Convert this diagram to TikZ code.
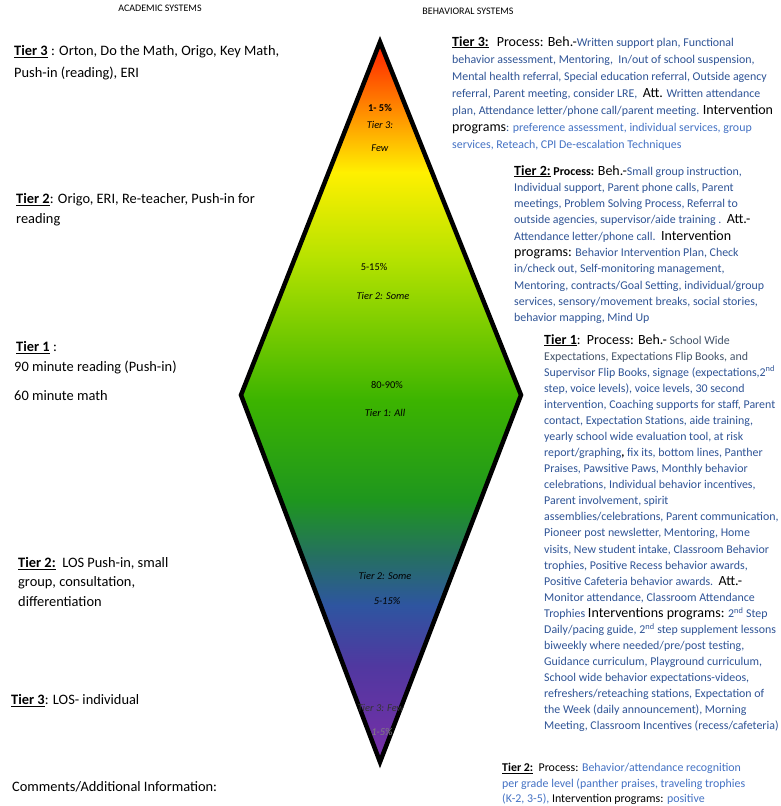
\documentclass[tikz,border=0pt]{standalone}
\usepackage{fontspec}
\setmainfont{Carlito}
\definecolor{bdark}{HTML}{2F5496}
\definecolor{blight}{HTML}{4472C4}
\definecolor{bgray}{HTML}{44546A}
\definecolor{c1}{HTML}{FF1A00}
\definecolor{c2}{HTML}{FF7A00}
\definecolor{c3}{HTML}{FFF000}
\definecolor{c4}{HTML}{B4E200}
\definecolor{c5}{HTML}{3CB400}
\definecolor{c6}{HTML}{1E961E}
\definecolor{c7}{HTML}{257060}
\definecolor{c8}{HTML}{2E55A0}
\definecolor{c9}{HTML}{5038A0}
\definecolor{c10}{HTML}{7A2EA8}
\tikzset{
  lefttext/.style={anchor=north west, inner sep=0, align=left, font=\fontsize{14.4}{22}\selectfont},
  righttext/.style={anchor=north west, inner sep=0, align=left, font=\fontsize{11.9}{16.2}\selectfont, text=bdark},
  lbl/.style={font=\fontsize{10.4}{12}\selectfont, inner sep=0},
  hdr/.style={font=\fontsize{10}{12}\selectfont, inner sep=0},
}
\newcommand{\bigtxt}[1]{{\fontsize{14}{16}\selectfont\color{black}#1}}
\newcommand{\tierhead}[1]{{\fontsize{14}{16}\selectfont\color{black}\textbf{\underline{#1}}}}
\begin{document}
\begin{tikzpicture}[x=1pt,y=-1pt]
\useasboundingbox (0,0) rectangle (780,806);
\fill[white] (0,0) rectangle (780,806);

% diamond
\coordinate (dt) at (380,42);
\coordinate (dl) at (241,395);
\coordinate (dr) at (521,395);
\coordinate (db) at (380,762);
\begin{scope}
\clip (dt) -- (dr) -- (db) -- (dl) -- cycle;
\fill[top color=c1, bottom color=c2] (230,40) rectangle (530,100.5);
\fill[top color=c2, bottom color=c3] (230,100) rectangle (530,172.5);
\fill[top color=c3, bottom color=c4] (230,172) rectangle (530,260.5);
\fill[top color=c4, bottom color=c5] (230,260) rectangle (530,400.5);
\fill[top color=c5, bottom color=c6] (230,400) rectangle (530,500.5);
\fill[top color=c6, bottom color=c7] (230,500) rectangle (530,555.5);
\fill[top color=c7, bottom color=c8] (230,555) rectangle (530,605.5);
\fill[top color=c8, bottom color=c9] (230,605) rectangle (530,665.5);
\fill[top color=c9, bottom color=c10] (230,665) rectangle (530,765);
\end{scope}
\draw[line width=4.5pt, line join=miter] (dt) -- (dr) -- (db) -- (dl) -- cycle;

% diamond labels
\node[lbl] (p1) at (380,108) {\textbf{1- 5\%}};
\node[lbl] (p2) at (380,125) {\textit{Tier 3:}};
\node[lbl] (p3) at (380,148) {\textit{Few}};
\node[lbl] (p4) at (374,267) {5-15\%};
\node[lbl] (p5) at (383,296) {\textit{Tier 2: Some}};
\node[lbl] (p6) at (387,385) {80-90\%};
\node[lbl] (p7) at (385,413) {\textit{Tier 1: All}};
\node[lbl] (p8) at (385,576) {\textit{Tier 2: Some}};
\node[lbl] (p9) at (387,601) {\textit{5-15\%}};
\node[lbl, text=black!80] (p10) at (381,708) {\textit{Tier 3: Few}};
\node[lbl, text=black!50] (p11) at (382,732) {\textit{1-5\%}};

% headers
\node[hdr] (h1) at (160,8) {ACADEMIC SYSTEMS};
\node[hdr] (h2) at (468,11) {BEHAVIORAL SYSTEMS};

% left column
\node[lefttext] (a3) at (14,45) {\textbf{\underline{Tier 3}} : Orton, Do the Math, Origo, Key Math,\\Push-in (reading), ERI};
\node[lefttext, font=\fontsize{14.4}{20.5}\selectfont] (a2) at (16,193) {\textbf{\underline{Tier 2}}: Origo, ERI, Re-teacher, Push-in for\\reading};
\node[lefttext] (a1) at (16,341) {\textbf{\underline{Tier 1}} :};
\node[lefttext] (a1b) at (14,361) {90 minute reading (Push-in)};
\node[lefttext] (a1c) at (14,390) {60 minute math};
\node[lefttext, font=\fontsize{14.4}{19.5}\selectfont] (b2) at (18,557) {\textbf{\underline{Tier 2:}}\ \ LOS Push-in, small\\group, consultation,\\differentiation};
\node[lefttext] (b3) at (11,694) {\textbf{\underline{Tier 3}}: LOS- individual};
\node[lefttext] (cm) at (12,781) {Comments/Additional Information:};

% right column
\node[righttext, font=\fontsize{11.9}{17.1}\selectfont] (r3) at (452,36) {\tierhead{Tier 3:}\ \ \ \bigtxt{Process: Beh.-}Written support plan, Functional\\
behavior assessment, Mentoring,\ \ In/out of school suspension,\\
Mental health referral, Special education referral, Outside agency\\
referral, Parent meeting, consider LRE,\ \ \bigtxt{Att.} Written attendance\\
plan, Attendance letter/phone call/parent meeting. \bigtxt{Intervention}\\
\bigtxt{programs}: \textcolor{blight}{preference assessment, individual services, group}\\
\textcolor{blight}{services, Reteach, CPI De-escalation Techniques}};

\node[righttext, font=\fontsize{11.9}{16.3}\selectfont] (r2) at (514,165) {\tierhead{Tier 2:} {\color{black}\fontsize{12}{14}\selectfont\textbf{Process:}} \bigtxt{Beh.-}Small group instruction,\\
Individual support, Parent phone calls, Parent\\
meetings, Problem Solving Process, Referral to\\
outside agencies, supervisor/aide training .\ \ \bigtxt{Att.-}\\
Attendance letter/phone call.\ \ \bigtxt{Intervention}\\
\bigtxt{programs:} Behavior Intervention Plan, Check\\
in/check out, Self-monitoring management,\\
Mentoring, contracts/Goal Setting, individual/group\\
services, sensory/movement breaks, social stories,\\
behavior mapping, Mind Up};

\node[righttext, font=\fontsize{11.9}{16.08}\selectfont] (r1) at (544,334) {\tierhead{Tier 1}\bigtxt{:\ \ Process: Beh.-} \textcolor{bgray}{School Wide}\\
\textcolor{bgray}{Expectations, Expectations Flip Books, and}\\
Supervisor Flip Books, signage (expectations,2\textsuperscript{nd}\\
step, voice levels), voice levels, 30 second\\
intervention, Coaching supports for staff, Parent\\
contact, Expectation Stations, aide training,\\
yearly school wide evaluation tool, at risk\\
report/graphing\textcolor{black}{\textbf{,}} fix its, bottom lines, Panther\\
Praises, Pawsitive Paws, Monthly behavior\\
celebrations, Individual behavior incentives,\\
Parent involvement, spirit\\
assemblies/celebrations, Parent communication,\\
Pioneer post newsletter, Mentoring, Home\\
visits, New student intake, Classroom Behavior\\
trophies, Positive Recess behavior awards,\\
Positive Cafeteria behavior awards.\ \ \bigtxt{Att.-}\\
Monitor attendance, Classroom Attendance\\
Trophies \bigtxt{Interventions programs:} 2\textsuperscript{nd} Step\\
Daily/pacing guide, 2\textsuperscript{nd} step supplement lessons\\
biweekly where needed/pre/post testing,\\
Guidance curriculum, Playground curriculum,\\
School wide behavior expectations-videos,\\
refreshers/reteaching stations, Expectation of\\
the Week (daily announcement), Morning\\
Meeting, Classroom Incentives (recess/cafeteria)};

\node[righttext, text=blight, font=\fontsize{11.9}{15.5}\selectfont] (r0) at (502,763) {{\color{black}\textbf{\underline{Tier 2:}}\ \ Process:} Behavior/attendance recognition\\
per grade level (panther praises, traveling trophies\\
(K-2, 3-5), {\color{black}Intervention programs:} positive};
\end{tikzpicture}
\end{document}
